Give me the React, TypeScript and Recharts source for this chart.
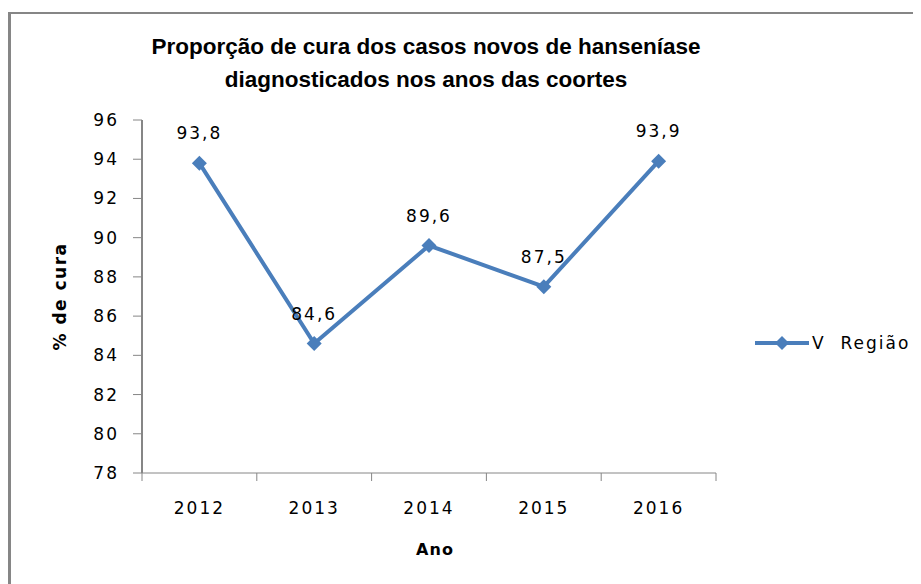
import React from 'react';
import { LineChart, Line, XAxis, YAxis, Legend, LabelList } from 'recharts';

const years = ['2012', '2013', '2014', '2015', '2016'];
const cureRate = [93.8, 84.6, 89.6, 87.5, 93.9];
const yTicks = [78, 80, 82, 84, 86, 88, 90, 92, 94, 96];
const seriesName = 'V  Região';

const data = years.map((ano, i) => ({ ano, valor: cureRate[i] }));

const BLUE = '#4a7ebb';
const AXIS = '#868686';
const TICK_FONT = { fontFamily: 'DejaVu Sans', fontSize: 17, letterSpacing: 2, fill: '#000' };

const X_TICK_SIZE = 8;
const X_TICK_MARGIN = 21;

// ticks do eixo X entre categorias, como no Excel
const YearTick = (props: any) => {
  const { x, y, payload, index } = props;
  const half = payload && payload.offset ? payload.offset : 57.4;
  const axisY = y - X_TICK_SIZE - X_TICK_MARGIN;
  return (
    <g>
      {index === 0 && (
        <line x1={x - half} x2={x - half} y1={axisY} y2={axisY + X_TICK_SIZE} stroke={AXIS} strokeWidth={1} />
      )}
      <line x1={x + half} x2={x + half} y1={axisY} y2={axisY + X_TICK_SIZE} stroke={AXIS} strokeWidth={1} />
      <text x={x} y={y} dy="0.71em" textAnchor="middle" style={TICK_FONT}>
        {payload.value}
      </text>
    </g>
  );
};

const Diamond = (props: any) => {
  const { cx, cy, index } = props;
  if (cx == null || cy == null) return null;
  return <path key={`d-${index}`} d={`M${cx},${cy - 7.5}L${cx + 7.5},${cy}L${cx},${cy + 7.5}L${cx - 7.5},${cy}Z`} fill={BLUE} />;
};

const LegendBox = () => (
  <div style={{ display: 'flex', alignItems: 'center' }}>
    <svg width={54} height={20}>
      <line x1={0} y1={10} x2={54} y2={10} stroke={BLUE} strokeWidth={4} />
      <path d="M27,3L34,10L27,17L20,10Z" fill={BLUE} />
    </svg>
    <span style={{ whiteSpace: 'pre', marginLeft: 3, fontFamily: 'DejaVu Sans', fontSize: 17, letterSpacing: 2, color: '#000' }}>
      {seriesName}
    </span>
  </div>
);

export default function App() {
  return (
    <div style={{ position: 'relative', width: 913, height: 576 }}>
      <div
        style={{
          position: 'absolute',
          left: 0,
          top: 4,
          width: 910,
          height: 570,
          borderLeft: `3px solid ${AXIS}`,
          borderTop: `2px solid ${AXIS}`,
        }}
      />
      <div
        style={{
          position: 'absolute',
          left: 0,
          top: 22,
          width: 836,
          textAlign: 'center',
          fontFamily: 'Liberation Sans',
          fontWeight: 'bold',
          fontSize: 22.5,
          lineHeight: '33px',
          color: '#000',
        }}
      >
        Proporção de cura dos casos novos de hanseníase
        <br />
        diagnosticados nos anos das coortes
      </div>
      <div style={{ position: 'absolute', left: 0, top: 0 }}>
        <LineChart width={913} height={576} data={data} margin={{ top: 112, right: 205, bottom: 21, left: 34 }}>
          <XAxis
            dataKey="ano"
            scale="band"
            height={90}
            axisLine={{ stroke: AXIS, strokeWidth: 1 }}
            tickLine={false}
            tickSize={X_TICK_SIZE}
            tickMargin={X_TICK_MARGIN}
            tick={<YearTick />}
            interval={0}
            label={{
              value: 'Ano',
              position: 'insideBottom',
              offset: 8,
              dx: 6,
              style: { fontFamily: 'DejaVu Sans', fontWeight: 'bold', fontSize: 16, letterSpacing: 1, fill: '#000' },
            }}
          />
          <YAxis
            domain={[78, 96]}
            ticks={yTicks}
            width={100}
            axisLine={{ stroke: AXIS, strokeWidth: 2 }}
            tickLine={{ stroke: AXIS, strokeWidth: 1 }}
            tickSize={9}
            tickMargin={14}
            tick={TICK_FONT}
            interval={0}
            label={{
              value: '% de cura',
              angle: -90,
              position: 'center',
              dx: -32,
              style: { fontFamily: 'DejaVu Sans', fontWeight: 'bold', fontSize: 17, letterSpacing: 1.5, fill: '#000' },
            }}
          />
          <Legend
            layout="vertical"
            align="center"
            verticalAlign="middle"
            content={<LegendBox />}
            wrapperStyle={{ left: 747, top: 325, width: 'auto' }}
          />
          <Line
            type="linear"
            dataKey="valor"
            name={seriesName}
            stroke={BLUE}
            strokeWidth={4}
            dot={<Diamond />}
            activeDot={false}
            isAnimationActive={false}
          >
            <LabelList
              dataKey="valor"
              position="top"
              offset={24}
              formatter={(v: any) => String(v).replace('.', ',')}
              style={TICK_FONT}
            />
          </Line>
        </LineChart>
      </div>
    </div>
  );
}
